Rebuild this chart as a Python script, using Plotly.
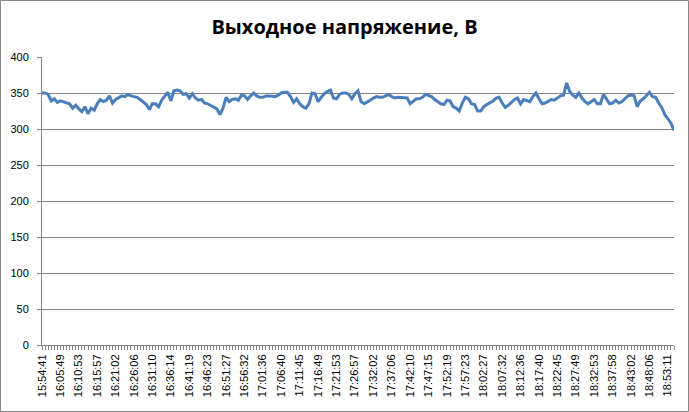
import plotly.graph_objects as go

title_text = "Выходное напряжение, В"

tick_labels = [
    "15:54:41", "16:05:49", "16:10:53", "16:15:57", "16:21:02", "16:26:06",
    "16:31:10", "16:36:14", "16:41:19", "16:46:23", "16:51:27", "16:56:32",
    "17:01:36", "17:06:40", "17:11:45", "17:16:49", "17:21:53", "17:26:57",
    "17:32:02", "17:37:06", "17:42:10", "17:47:15", "17:52:19", "17:57:23",
    "18:02:27", "18:07:32", "18:12:36", "18:17:40", "18:22:45", "18:27:49",
    "18:32:53", "18:37:58", "18:43:02", "18:48:06", "18:53:11",
]
label_step = 6

voltage = [
    350, 350, 348, 339, 342, 337, 339, 338, 337, 335,
    329, 333, 328, 324, 331, 321, 329, 326, 335, 341,
    338, 340, 346, 336, 341, 344, 346, 345, 348, 346,
    345, 344, 341, 337, 334, 327, 335, 335, 331, 340,
    346, 351, 339, 353, 354, 353, 348, 349, 343, 349,
    343, 340, 341, 336, 335, 333, 331, 328, 320, 329,
    344, 338, 341, 342, 340, 347, 346, 341, 346, 350,
    346, 344, 344, 346, 346, 345, 345, 347, 350, 351,
    351, 345, 337, 342, 335, 331, 329, 335, 350, 349,
    338, 344, 349, 352, 354, 343, 342, 348, 350, 350,
    348, 342, 349, 353, 338, 335, 337, 340, 343, 345,
    344, 344, 346, 348, 345, 343, 344, 344, 344, 343,
    335, 338, 342, 342, 344, 348, 347, 345, 341, 338,
    335, 334, 340, 339, 331, 329, 325, 336, 344, 342,
    335, 334, 325, 325, 331, 334, 336, 339, 343, 344,
    336, 330, 333, 337, 341, 343, 335, 341, 339, 338,
    345, 350, 342, 335, 336, 338, 341, 340, 343, 346,
    347, 364, 352, 347, 344, 350, 343, 338, 335, 338,
    341, 335, 335, 348, 341, 335, 336, 340, 336, 338,
    342, 346, 347, 346, 331, 339, 342, 347, 351, 345,
    344, 336, 330, 320, 314, 308, 298,
]

y_ticks = [0, 50, 100, 150, 200, 250, 300, 350, 400]

n = len(voltage)
x = list(range(n))
tickvals = list(range(n))
label_map = {i * label_step: t for i, t in enumerate(tick_labels)}
ticktext = [label_map.get(i, "") for i in tickvals]

grid_col = "#868686"

fig = go.Figure()
fig.add_trace(go.Scatter(
    x=x, y=voltage, mode="lines",
    line=dict(color="#4A7EBB", width=3),
    hoverinfo="y",
))

fig.update_layout(
    width=689, height=412,
    margin=dict(l=42, r=15, t=57, b=67, autoexpand=False),
    paper_bgcolor="white", plot_bgcolor="white",
    showlegend=False,
    title=dict(
        text="<b>" + title_text + "</b>",
        x=0.5, xanchor="center", y=1 - 27 / 412, yanchor="middle",
        font=dict(family="Open Sans", size=20, color="black"),
    ),
    xaxis=dict(
        range=[0, n - 1],
        tickmode="array", tickvals=tickvals, ticktext=ticktext,
        tickangle=-90,
        ticks="outside", ticklen=4, tickcolor=grid_col,
        showline=True, linecolor=grid_col, linewidth=1,
        showgrid=False, zeroline=False, automargin=False,
        tickfont=dict(family="Liberation Sans", size=11, color="black"),
    ),
    yaxis=dict(
        range=[0, 400],
        tickmode="array", tickvals=y_ticks,
        ticks="outside", ticklen=4, tickcolor=grid_col,
        showline=True, linecolor=grid_col, linewidth=1,
        showgrid=True, gridcolor=grid_col, gridwidth=1,
        zeroline=False, automargin=False,
        tickfont=dict(family="Liberation Sans", size=11, color="black"),
        ticklabelstandoff=6,
    ),
)

# outer chart border
fig.add_shape(
    type="rect", xref="paper", yref="paper",
    x0=(0.5 - 42) / 632, x1=(688.5 - 42) / 632,
    y0=(345 - 411.5) / 288, y1=(345 - 0.5) / 288,
    line=dict(color=grid_col, width=1), fillcolor="rgba(0,0,0,0)",
    layer="below",
)

fig.write_html(
    "out.html",
    config={"displayModeBar": False},
    post_script="document.body.style.margin='0';document.body.style.overflow='hidden';",
)
